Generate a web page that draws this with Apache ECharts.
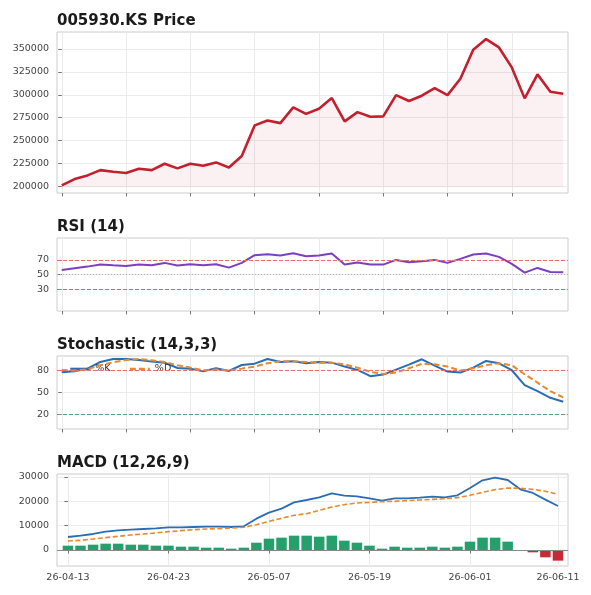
<!DOCTYPE html>
<html><head><meta charset="utf-8">
<script src="https://cdn.jsdelivr.net/npm/echarts@6/dist/echarts.min.js"></script>
<style>html,body{margin:0;padding:0;background:#fff}#c{width:591px;height:595px}</style>
</head><body><div id="c"></div>
<script>
const dates = ['26-04-13','26-04-14','26-04-15','26-04-16','26-04-17','26-04-20','26-04-21','26-04-22','26-04-23','26-04-24',
  '26-04-27','26-04-28','26-04-29','26-04-30','26-05-04','26-05-06','26-05-07','26-05-08','26-05-11','26-05-12',
  '26-05-13','26-05-14','26-05-15','26-05-18','26-05-19','26-05-20','26-05-21','26-05-22','26-05-26','26-05-27',
  '26-05-28','26-05-29','26-06-01','26-06-02','26-06-04','26-06-05','26-06-08','26-06-09','26-06-10','26-06-11'];
const price = [201100,208000,212000,217800,216000,214600,219300,217800,224700,219700,
  224700,222600,226200,220700,233100,266600,272000,269100,286200,279200,
  284800,296400,271000,281100,276000,276400,299700,293200,299000,307400,
  299700,317500,349200,360800,351700,329900,296100,322300,303300,301200];
const rsi = [56.2,58.5,60.8,63.6,62.6,61.7,63.6,62.6,65.9,62.2,
  64.0,62.6,64.0,59.4,65.9,76.4,77.8,76.0,79.2,75.1,
  76.0,78.7,63.6,66.3,63.6,63.6,70.0,66.8,68.2,70.0,
  65.9,71.4,77.4,78.7,74.1,64.5,52.5,59.0,53.4,53.0];
const stochK = [77.7,79.1,82.7,91.8,95.9,95.9,94.5,92.3,90.9,83.6,
  82.7,79.1,83.2,79.5,87.7,89.5,95.9,91.8,92.7,90.0,
  91.8,90.9,85.5,80.9,72.3,74.5,81.4,88.2,95.5,86.8,
  78.6,77.3,84.1,93.2,90.0,80.5,60.0,51.8,42.7,37.3];
const stochD = [80.9,80.0,81.8,87.3,91.4,94.5,95.9,94.1,91.8,87.3,
  84.1,80.5,81.4,80.0,82.7,85.5,90.0,92.7,92.7,91.8,
  90.9,90.9,88.6,84.1,78.2,75.5,77.3,83.2,89.1,88.6,
  85.5,80.0,83.2,87.3,90.0,87.3,75.0,63.6,51.8,43.2];
const macd = [5340,5900,6580,7540,8080,8360,8630,8900,9320,9320,
  9450,9590,9590,9450,9730,12880,15340,16990,19590,20550,
  21650,23290,22330,22060,21240,20280,21240,21240,21510,21920,
  21650,22470,25480,28630,29730,28770,24930,23430,20690,18080];
const signal = [3700,3970,4520,5070,5620,6170,6580,6990,7540,7950,
  8360,8630,8770,9040,9320,10410,11780,13020,14250,14930,
  16300,17670,18630,19320,19590,19870,20000,20280,20550,20820,
  21100,21510,22470,23700,24800,25480,25350,24930,24110,22880];
const hist = [1780,1780,2190,2600,2600,2190,2190,1780,1780,1370,
  1370,960,960,550,960,3010,4660,5070,5890,5890,
  5480,5890,3840,3010,1780,550,1370,960,960,1370,
  960,1370,3430,5070,5070,3430,-100,-960,-3010,-4380];
const priceTicks = [200000,225000,250000,275000,300000,325000,350000];
const rsiTicks = [30,50,70];
const stochTicks = [20,50,80];
const macdTicks = [0,10000,20000,30000];
const topXTicks = [0,5,10,15,20,25,30,35];
const macdXTicks = [0,8,16,24,32,39];

const FONT = 'DejaVu Sans';
const pairs = arr => arr.map((v, i) => [i, v]);
const labelStyle = {fontFamily: FONT, fontSize: 9.5, color: '#444'};
const gridLine = {show: true, lineStyle: {color: '#ebebeb', width: 1}};
const tick = vals => ({show: true, customValues: vals, length: 3.5, lineStyle: {color: '#555', width: 0.8}});

function xAx(gi, ticks, min, max, showLabel) {
  return {
    type: 'value', gridIndex: gi, min: min, max: max,
    axisLine: {show: false},
    axisTick: tick(ticks),
    axisLabel: Object.assign({show: showLabel, customValues: ticks, margin: 7,
      formatter: v => dates[Math.round(v)]}, labelStyle),
    splitLine: gridLine
  };
}
function yAx(gi, ticks, min, max, split) {
  return {
    type: 'value', gridIndex: gi, min: min, max: max,
    axisLine: {show: false},
    axisTick: tick(ticks),
    axisLabel: Object.assign({customValues: ticks, margin: 8, formatter: v => String(v)}, labelStyle),
    splitLine: split ? gridLine : {show: false}
  };
}
const titleStyle = {fontFamily: FONT, fontSize: 15, fontWeight: 'bold', color: '#1a1a1a'};
const grid = (top, h) => ({left: 57, top: top, width: 511, height: h, show: true,
  borderColor: '#cccccc', borderWidth: 1, backgroundColor: 'transparent'});
const refLine = (y, color, type) => ({yAxis: y, lineStyle: {color: color, type: type, width: 1}});
const mk = data => ({symbol: 'none', silent: true, label: {show: false}, data: data, animation: false});

const BLUE = '#2a6db3', ORANGE = '#e8892e';
const option = {
  animation: false,
  title: [
    {text: '005930.KS Price', left: 52, top: 9, textStyle: titleStyle},
    {text: 'RSI (14)', left: 52, top: 215, textStyle: titleStyle},
    {text: 'Stochastic (14,3,3)', left: 52, top: 333, textStyle: titleStyle},
    {text: 'MACD (12,26,9)', left: 52, top: 451, textStyle: titleStyle}
  ],
  legend: {
    left: 64, top: 359, itemWidth: 20, itemHeight: 10, itemGap: 18,
    data: ['%K', '%D'],
    itemStyle: {color: 'rgba(0,0,0,0)', borderWidth: 0, opacity: 0},
    lineStyle: {width: 2.6},
    textStyle: {fontFamily: FONT, fontSize: 9.5, color: '#333'}
  },
  grid: [grid(32, 161), grid(238, 73), grid(356, 73), grid(474, 92)],
  xAxis: [
    xAx(0, topXTicks, -0.37, 39.37, false),
    xAx(1, topXTicks, -0.37, 39.37, false),
    xAx(2, topXTicks, -0.37, 39.37, false),
    xAx(3, macdXTicks, -0.87, 39.8, true)
  ],
  yAxis: [
    yAx(0, priceTicks, 192800, 368560, true),
    yAx(1, rsiTicks, 0, 100, true),
    yAx(2, stochTicks, 0, 100, true),
    yAx(3, macdTicks, -6576, 31233, true)
  ],
  series: [
    {type: 'line', xAxisIndex: 0, yAxisIndex: 0, data: pairs(price), symbol: 'none',
      lineStyle: {color: '#c21f2f', width: 2.6}, itemStyle: {color: '#c21f2f'},
      areaStyle: {color: 'rgba(200,30,45,0.09)', origin: Math.min(...price) * 0.99}},
    {type: 'line', xAxisIndex: 1, yAxisIndex: 1, data: pairs(rsi), symbol: 'none', z: 3,
      lineStyle: {color: '#7b3fc2', width: 2}, itemStyle: {color: '#7b3fc2'},
      markLine: mk([refLine(70, '#e07272', [4, 2]), refLine(50, '#b0b0b0', [1, 2]), refLine(30, '#5e9e84', [4, 2])])},
    {type: 'line', name: '%K', xAxisIndex: 2, yAxisIndex: 2, data: pairs(stochK), symbol: 'none', z: 3,
      lineStyle: {color: BLUE, width: 2}, itemStyle: {color: BLUE},
      markLine: mk([refLine(80, '#e07272', [4, 2]), refLine(20, '#5e9e84', [4, 2])])},
    {type: 'line', name: '%D', xAxisIndex: 2, yAxisIndex: 2, data: pairs(stochD), symbol: 'none', z: 4,
      lineStyle: {color: ORANGE, width: 2, type: [6, 3]}, itemStyle: {color: ORANGE}},
    {type: 'bar', xAxisIndex: 3, yAxisIndex: 3, data: pairs(hist), barWidth: 10.5,
      itemStyle: {color: p => p.value[1] >= 0 ? '#23a06c' : '#c62a36'},
      markLine: mk([{yAxis: 0, lineStyle: {color: '#888', type: 'solid', width: 1}}])},
    {type: 'line', xAxisIndex: 3, yAxisIndex: 3, data: pairs(macd), symbol: 'none', z: 3,
      lineStyle: {color: BLUE, width: 1.8}, itemStyle: {color: BLUE}},
    {type: 'line', xAxisIndex: 3, yAxisIndex: 3, data: pairs(signal), symbol: 'none', z: 4,
      lineStyle: {color: ORANGE, width: 1.6, type: [5, 2.5]}, itemStyle: {color: ORANGE}}
  ]
};
const chart = echarts.init(document.getElementById('c'), null, {renderer: 'canvas'});
chart.setOption(option);
</script>
</body></html>
